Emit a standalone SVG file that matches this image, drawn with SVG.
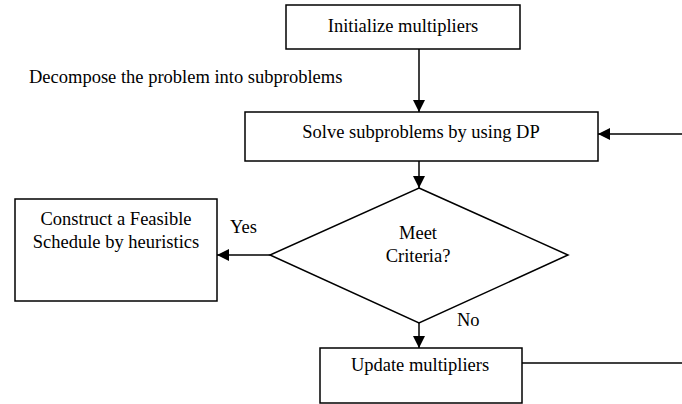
<svg xmlns="http://www.w3.org/2000/svg" width="682" height="404" viewBox="0 0 682 404">
<defs>
<style>
.box{fill:#fff;stroke:#000;stroke-width:1.5}
.t{font-family:"Liberation Serif","Times New Roman",serif;font-size:18.5px;fill:#000}
.c{text-anchor:middle}
.ln{stroke:#000;stroke-width:1.5;fill:none}
</style>
<marker id="ah" viewBox="0 0 10 10" refX="10" refY="5" markerWidth="12" markerHeight="12" markerUnits="userSpaceOnUse" orient="auto">
<path d="M0,0 L10,5 L0,10 Z" fill="#000"/>
</marker>
</defs>
<rect width="682" height="404" fill="#fff"/>
<g id="connectors">
<line class="ln" x1="419" y1="49" x2="419" y2="112" marker-end="url(#ah)"/>
<line class="ln" x1="682" y1="134" x2="598" y2="134" marker-end="url(#ah)"/>
<line class="ln" x1="419" y1="161" x2="419" y2="188" marker-end="url(#ah)"/>
<line class="ln" x1="270" y1="255" x2="217" y2="255" marker-end="url(#ah)"/>
<line class="ln" x1="419" y1="323" x2="419" y2="348" marker-end="url(#ah)"/>
<line class="ln" x1="522" y1="363" x2="682" y2="363"/>
<text class="t" x="230" y="233">Yes</text>
<text class="t" x="457" y="326">No</text>
</g>
<g id="init">
<rect class="box" x="286" y="5" width="234" height="44"/>
<text class="t c" x="403" y="32">Initialize multipliers</text>
</g>
<g id="decompose">
<text class="t" x="29" y="83">Decompose the problem into subproblems</text>
</g>
<g id="solve">
<rect class="box" x="245" y="112" width="353" height="49"/>
<text class="t c" x="421" y="138">Solve subproblems by using DP</text>
</g>
<g id="criteria">
<polygon class="box" points="419,188 568,255 419,323 270,255"/>
<text class="t c" x="418" y="239">Meet</text>
<text class="t c" x="418" y="262">Criteria?</text>
</g>
<g id="construct">
<rect class="box" x="15" y="199" width="202" height="102"/>
<text class="t c" x="116" y="225">Construct a Feasible</text>
<text class="t c" x="116" y="248">Schedule by heuristics</text>
</g>
<g id="update">
<rect class="box" x="320" y="348" width="202" height="55"/>
<text class="t c" x="420" y="371">Update multipliers</text>
</g>
</svg>
